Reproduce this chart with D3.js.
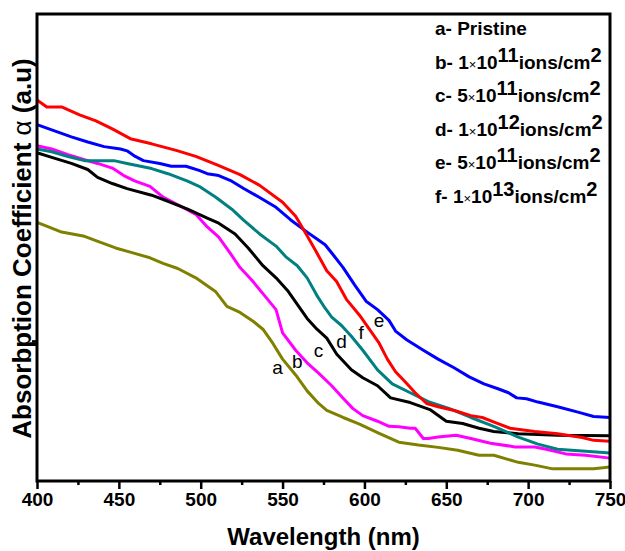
<!DOCTYPE html>
<html>

<head>
    <meta charset="utf-8">
    <style>
        body {
            margin: 0;
            background: #fff;
        }

        svg {
            font-family: 'Liberation Sans', Arial, sans-serif;
        }

        .axis .domain {
            display: none;
        }

        .axis .tick line {
            stroke: #000;
            stroke-width: 2.5;
        }

        .axis .tick text {
            font-size: 19px;
            font-weight: bold;
            fill: #000;
        }

        .axis-title {
            font-size: 24px;
            font-weight: bold;
        }

        .y-title {
            font-size: 26px;
        }

        .legend-text {
            font-size: 19px;
            font-weight: bold;
        }

        .curve-label {
            font-size: 19px;
        }
    </style>
</head>

<body>
    <svg width="625" height="551"></svg>
</body>

<script src="https://d3js.org/d3.v7.min.js"></script>

<script>
    let width = 625;
    let height = 551;

    let margin = {
        top: 14,
        right: 15,
        bottom: 70,
        left: 37
    };

    // tick labels on the wavelength axis
    let xTicks = [400, 450, 500, 550, 600, 650, 700, 750];
    let xMinorTicks = [425, 475, 525, 575, 625, 675, 725];

    // a - pristine (olive)
    let wlA = [400, 407, 415, 429, 438, 448, 458, 469, 477, 486, 497, 509, 516, 524, 532, 538, 544, 550, 558, 565, 572, 577, 587, 597, 609, 621, 633, 645, 657, 670, 679, 694, 704, 715, 728, 740, 750];
    let absA = [0.554, 0.544, 0.533, 0.524, 0.512, 0.499, 0.489, 0.478, 0.466, 0.455, 0.435, 0.406, 0.374, 0.361, 0.342, 0.325, 0.295, 0.261, 0.227, 0.193, 0.166, 0.151, 0.136, 0.122, 0.102, 0.083, 0.077, 0.072, 0.066, 0.055, 0.055, 0.040, 0.034, 0.026, 0.026, 0.026, 0.030];

    // b - 1e11 (magenta)
    let wlB = [400, 409, 419, 429, 437, 446, 453, 460, 469, 477, 487, 497, 504, 511, 518, 524, 531, 539, 546, 550, 558, 565, 572, 580, 586, 593, 599, 608, 615, 621, 628, 631, 636, 639, 645, 656, 665, 677, 692, 704, 711, 723, 735, 750];
    let absB = [0.718, 0.711, 0.699, 0.688, 0.680, 0.670, 0.654, 0.642, 0.631, 0.608, 0.590, 0.571, 0.544, 0.522, 0.488, 0.457, 0.431, 0.397, 0.367, 0.317, 0.280, 0.253, 0.231, 0.204, 0.181, 0.155, 0.140, 0.128, 0.117, 0.116, 0.113, 0.113, 0.091, 0.091, 0.094, 0.098, 0.091, 0.081, 0.073, 0.073, 0.068, 0.058, 0.055, 0.049];

    // c - 5e11 (black)
    let wlC = [400, 409, 421, 431, 437, 446, 455, 470, 480, 492, 504, 511, 521, 529, 538, 546, 553, 559, 565, 571, 577, 583, 592, 599, 608, 616, 628, 640, 650, 660, 670, 679, 694, 718, 750];
    let absC = [0.703, 0.693, 0.680, 0.667, 0.650, 0.637, 0.626, 0.612, 0.599, 0.582, 0.563, 0.552, 0.529, 0.499, 0.461, 0.435, 0.408, 0.378, 0.348, 0.325, 0.306, 0.272, 0.238, 0.221, 0.204, 0.178, 0.168, 0.153, 0.128, 0.123, 0.113, 0.106, 0.101, 0.098, 0.097];

    // d - 1e12 (dark cyan)
    let wlD = [400, 409, 419, 429, 438, 447, 455, 470, 480, 492, 499, 509, 519, 526, 536, 546, 552, 559, 565, 571, 576, 580, 586, 592, 599, 608, 617, 628, 639, 652, 665, 679, 694, 706, 718, 733, 750];
    let absD = [0.711, 0.705, 0.695, 0.686, 0.686, 0.686, 0.680, 0.669, 0.658, 0.642, 0.631, 0.608, 0.582, 0.559, 0.529, 0.503, 0.480, 0.461, 0.435, 0.397, 0.370, 0.351, 0.333, 0.310, 0.280, 0.238, 0.208, 0.189, 0.170, 0.155, 0.136, 0.117, 0.094, 0.079, 0.068, 0.064, 0.060];

    // e - 5e11 (blue)
    let wlE = [400, 412, 421, 431, 441, 451, 455, 460, 465, 475, 482, 491, 499, 504, 511, 519, 526, 537, 546, 555, 565, 571, 576, 581, 587, 594, 601, 608, 615, 619, 626, 636, 645, 655, 664, 673, 682, 688, 693, 699, 706, 718, 731, 740, 750];
    let absE = [0.763, 0.748, 0.737, 0.726, 0.716, 0.711, 0.707, 0.695, 0.686, 0.680, 0.674, 0.674, 0.665, 0.658, 0.654, 0.642, 0.627, 0.605, 0.586, 0.559, 0.533, 0.518, 0.506, 0.484, 0.457, 0.420, 0.385, 0.367, 0.344, 0.321, 0.302, 0.280, 0.261, 0.242, 0.223, 0.208, 0.197, 0.189, 0.178, 0.176, 0.169, 0.159, 0.147, 0.138, 0.136];

    // f - 1e13 (red)
    let wlF = [400, 406, 415, 426, 436, 446, 457, 470, 485, 497, 510, 524, 536, 550, 558, 565, 571, 577, 583, 589, 597, 603, 609, 614, 619, 625, 631, 638, 645, 655, 665, 672, 680, 689, 704, 718, 733, 740, 750];
    let absF = [0.816, 0.801, 0.801, 0.784, 0.771, 0.754, 0.733, 0.722, 0.708, 0.695, 0.677, 0.656, 0.633, 0.597, 0.567, 0.525, 0.488, 0.450, 0.427, 0.389, 0.355, 0.325, 0.295, 0.261, 0.234, 0.212, 0.189, 0.166, 0.159, 0.151, 0.140, 0.136, 0.125, 0.113, 0.106, 0.101, 0.093, 0.087, 0.085];

    // legend entries
    let keys = ["a", "b", "c", "d", "e", "f"];
    let doseCoef = [null, "1", "5", "1", "5", "1"];
    let doseExp = [null, "11", "11", "12", "11", "13"];
    let colors = ["#808000", "#ff00ff", "#000000", "#008080", "#0000ff", "#ff0000"];

    // where the letters sit next to the curves (wavelength, value)
    let labelWl = [547, 559, 572, 586, 609, 598];
    let labelAbs = [0.242, 0.255, 0.280, 0.299, 0.344, 0.318];

    let series = [
        d3.zip(wlA, absA),
        d3.zip(wlB, absB),
        d3.zip(wlC, absC),
        d3.zip(wlD, absD),
        d3.zip(wlE, absE),
        d3.zip(wlF, absF)
    ];

    let svg = d3.select("svg");

    let x = d3.scaleLinear()
        .domain([400, 750])
        .range([margin.left, width - margin.right]);

    let y = d3.scaleLinear()
        .domain([0, 1])
        .range([height - margin.bottom, margin.top]);

    let line = d3.line()
        .x(d => x(d[0]))
        .y(d => y(d[1]));

    // curves
    svg.append("g")
        .attr("class", "curves")
        .selectAll("path")
        .data(series)
        .join("path")
        .attr("fill", "none")
        .attr("stroke", (d, i) => colors[i])
        .attr("stroke-width", 3)
        .attr("stroke-linejoin", "round")
        .attr("d", line);

    // frame
    svg.append("rect")
        .attr("x", x(400))
        .attr("y", y(1))
        .attr("width", x(750) - x(400))
        .attr("height", y(0) - y(1))
        .attr("fill", "none")
        .attr("stroke", "#000")
        .attr("stroke-width", 3);

    // x axis, major and minor
    svg.append("g")
        .attr("class", "x axis")
        .attr("transform", `translate(0,${y(0)})`)
        .call(d3.axisBottom(x).tickValues(xTicks).tickSize(8).tickPadding(4).tickFormat(d3.format("d")));

    svg.append("g")
        .attr("class", "x axis minor")
        .attr("transform", `translate(0,${y(0)})`)
        .call(d3.axisBottom(x).tickValues(xMinorTicks).tickSize(4).tickFormat(""));

    // y axis has a single unlabeled tick
    svg.append("g")
        .attr("class", "y axis")
        .attr("transform", `translate(${x(400)},0)`)
        .call(d3.axisLeft(y).tickValues([0.3]).tickSize(5).tickFormat(""));

    // axis titles
    svg.append("text")
        .attr("class", "axis-title")
        .attr("x", (x(400) + x(750)) / 2)
        .attr("y", 545)
        .attr("text-anchor", "middle")
        .text("Wavelength (nm)");

    let yTitle = svg.append("text")
        .attr("class", "axis-title y-title")
        .attr("transform", `translate(31,${(y(0) + y(1)) / 2 + 1}) rotate(-90)`)
        .attr("text-anchor", "middle");
    yTitle.append("tspan").text("Absorbption Coefficient ");
    yTitle.append("tspan").attr("font-weight", "normal").text("α");
    yTitle.append("tspan").text(" (a.u)");

    // letters on the curves
    svg.append("g")
        .selectAll("text")
        .data(keys)
        .join("text")
        .attr("class", "curve-label")
        .attr("x", (d, i) => x(labelWl[i]))
        .attr("y", (d, i) => y(labelAbs[i]))
        .attr("text-anchor", "middle")
        .attr("dominant-baseline", "central")
        .text(d => d);

    // legend
    let legend = svg.append("g").attr("class", "legend");
    let start_pos = 35;
    for (let i = 0; i < keys.length; i++) {
        let t = legend.append("text")
            .attr("class", "legend-text")
            .attr("x", 435)
            .attr("y", start_pos);
        if (doseCoef[i] == null) {
            t.append("tspan").text(keys[i] + "- Pristine");
        } else {
            t.append("tspan").text(keys[i] + "- " + doseCoef[i]);
            t.append("tspan").attr("font-size", 13).attr("font-weight", "normal").text("×");
            t.append("tspan").text("10");
            t.append("tspan").attr("dy", -7).attr("font-size", 20).text(doseExp[i]);
            t.append("tspan").attr("dy", 7).text("ions/cm");
            t.append("tspan").attr("dy", -7).attr("font-size", 20).text("2");
        }
        start_pos += 33.6;
    }
</script>

</html>
